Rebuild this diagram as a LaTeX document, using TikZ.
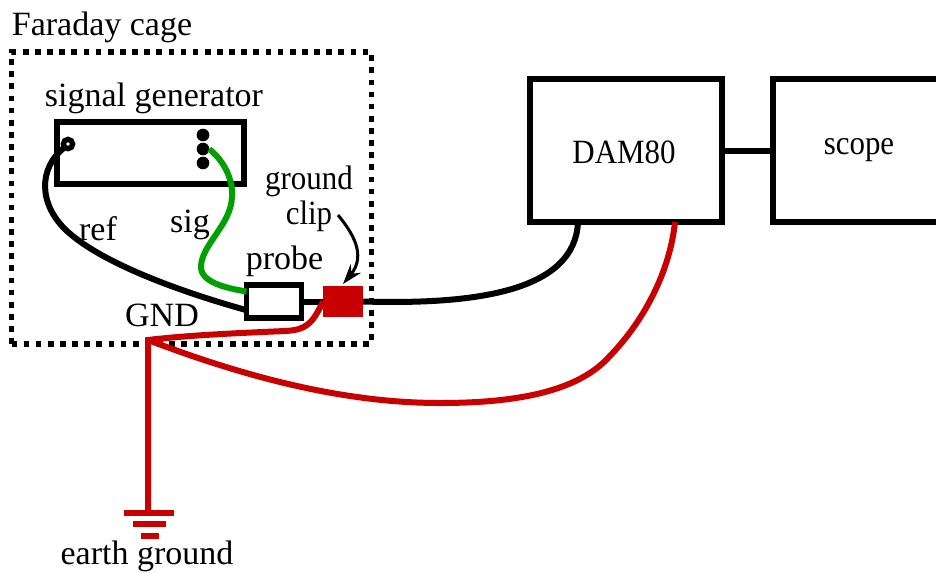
\documentclass[tikz,border=0pt]{standalone}
\usepackage{fontspec}
\setmainfont{Liberation Serif}
\usetikzlibrary{arrows.meta}
\definecolor{wirered}{RGB}{200,0,0}
\definecolor{wiregreen}{RGB}{0,160,0}
\newcommand{\narrowtext}[1]{\scalebox{0.91}[1]{#1}}
\tikzset{
  box/.style={draw,line width=4.25pt,outer sep=0pt,inner sep=0pt},
  pin/.style={circle,fill,minimum size=9.5pt,inner sep=0pt,outer sep=0pt},
  wire/.style={line width=4.5pt},
  redwire/.style={wire,color=wirered},
  greenwire/.style={wire,color=wiregreen},
  label/.style={inner sep=0.75pt,font=\fontsize{25.5}{28}\selectfont},
}
\begin{document}
\begin{tikzpicture}[x=0.75pt,y=0.75pt,yscale=-1,xscale=1]
\clip (0,0) rectangle (936,572);

% Cage
\node [draw,line width=4.25pt,dash pattern=on 4.25pt off 4.85pt,minimum width=270pt,minimum height=219pt,inner sep=0pt] (cage) at (191.5,198) {};
\node [label] (cagelabel) at (102,27) {Faraday cage};

% Boxes
\node [box,minimum width=140.25pt,minimum height=46.5pt] (siggen) at (150.5,153) {};
\node [box,minimum width=41.25pt,minimum height=24.75pt] (probe) at (274,301.5) {};
\node [fill=wirered,minimum width=30pt,minimum height=23.25pt,inner sep=0pt,outer sep=0pt] (clip) at (343,301.5) {};
\node [box,minimum width=144pt,minimum height=107.25pt] (dam) at (626,150.5) {};
\node [box,minimum width=163.5pt,minimum height=107.25pt] (scope) at (882,150.5) {};
\node [label] (damlabel) at (624,152) {\narrowtext{DAM80}};
\node [label] (scopelabel) at (859,150) {\narrowtext{scope}};

% Jacks
\node [circle,draw,line width=4pt,minimum size=7pt,inner sep=0pt,outer sep=0pt] (jack) at (68,144) {};
\node [pin] (pina) at (203,135) {};
\node [pin] (pinb) at (203,149) {};
\node [pin] (pinc) at (203,163) {};

% Ground
\coordinate (gnd) at (148,340);
\coordinate (earth) at (148,513);
\coordinate (bara) at (124,513);
\coordinate (barb) at (174,513);
\coordinate (barc) at (133,524);
\coordinate (bard) at (166,524);
\coordinate (bare) at (141,536);
\coordinate (barf) at (159,536);
\coordinate (pointer) at (338,215);

% Wires
\draw [wire] (jack.south west) .. controls (38,168) and (38,205) .. (68,232) .. controls (105,265) and (185,293) .. ([yshift=6.5pt]probe.west);
\draw [greenwire] (pinb.east) .. controls (225,162) and (233,180) .. (232,197) .. controls (231,225) and (201,245) .. (201,267) .. controls (201,282) and (225,288) .. ([yshift=-7.5pt]probe.west);
\draw [wire] (probe.east) -- (clip.west);
\draw [wire] (clip.east) .. controls (480,305) and (575,290) .. (dam.south -| 578,222);
\draw [wire] (dam.east) -- (scope.west);
\draw [redwire] (clip.west) .. controls (312,325) and (305,330) .. (285,331) .. controls (240,333) and (190,335) .. (gnd) -- (earth);
\draw [redwire] (gnd) .. controls (240,375) and (340,403) .. (440,403) .. controls (515,403) and (572,392) .. (604,362) .. controls (645,322) and (670,270) .. (dam.south -| 675,222);
\draw [redwire] (bara) -- (barb);
\draw [redwire] (barc) -- (bard);
\draw [redwire] (bare) -- (barf);

% Text Node
\node [label] (siglabel) at (154,98) {signal generator};
\node [label] (reflabel) at (98,229) {ref};
\node [label] (sigwire) at (190,225) {sig};
\node [label] (probelabel) at (284.5,261) {probe};
\node [label] (gndlabel) at (162,315) {GND};
\node [label] (groundlabel) at (309,181) {\narrowtext{ground}};
\node [label] (cliplabel) at (309,216) {\narrowtext{clip}};
\node [label] (earthlabel) at (147,556) {earth ground};

% Pointer
\draw [line width=2.25pt,-{Stealth[length=15pt,width=10pt,inset=5pt]}] (pointer) .. controls (352,232) and (367,255) .. (343,284);

\end{tikzpicture}
\end{document}
